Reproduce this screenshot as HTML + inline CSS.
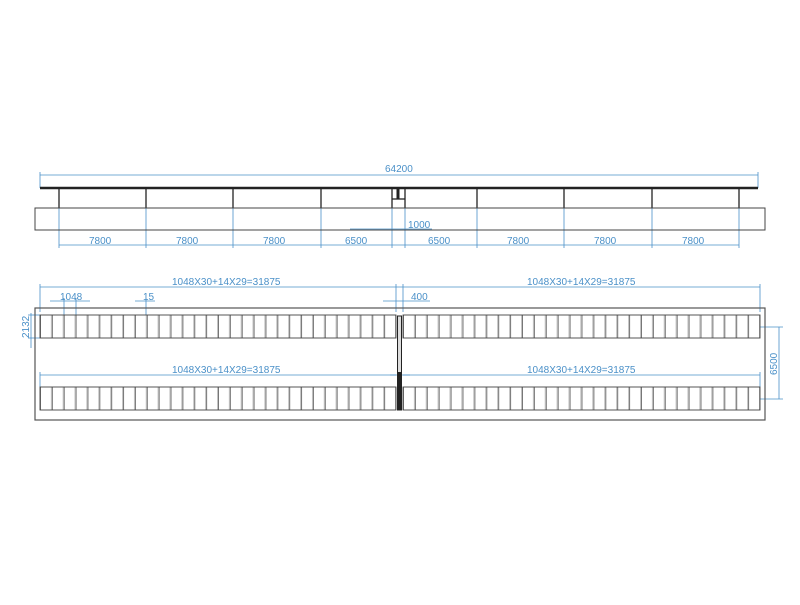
<!DOCTYPE html><html><head><style>body{margin:0;background:#fff}</style></head><body>
<svg width="800" height="600" xmlns="http://www.w3.org/2000/svg" font-family="Liberation Sans, sans-serif">
<defs>
<pattern id="pL" patternUnits="userSpaceOnUse" x="40" y="0" width="11.867" height="600"><rect x="0" y="0" width="11.867" height="600" fill="#fff"/><line x1="0.5" y1="0" x2="0.5" y2="600" stroke="#555" stroke-width="0.8"/><line x1="11.3" y1="0" x2="11.3" y2="600" stroke="#888" stroke-width="0.5"/></pattern>
<pattern id="pR" patternUnits="userSpaceOnUse" x="403" y="0" width="11.9" height="600"><rect x="0" y="0" width="11.9" height="600" fill="#fff"/><line x1="0.5" y1="0" x2="0.5" y2="600" stroke="#555" stroke-width="0.8"/><line x1="11.3" y1="0" x2="11.3" y2="600" stroke="#888" stroke-width="0.5"/></pattern>
</defs>
<rect width="800" height="600" fill="#fff"/>
<g stroke="#4a90c8" stroke-width="0.8" fill="none">
<line x1="40" y1="175" x2="758" y2="175"/><line x1="40" y1="172" x2="40" y2="188"/><line x1="758" y1="172" x2="758" y2="188"/>
<line x1="59" y1="245" x2="739" y2="245"/>
<line x1="59" y1="208" x2="59" y2="248"/><line x1="146" y1="208" x2="146" y2="248"/><line x1="233" y1="208" x2="233" y2="248"/><line x1="321" y1="208" x2="321" y2="248"/><line x1="392" y1="208" x2="392" y2="248"/><line x1="405" y1="208" x2="405" y2="248"/><line x1="477" y1="208" x2="477" y2="248"/><line x1="564" y1="208" x2="564" y2="248"/><line x1="652" y1="208" x2="652" y2="248"/><line x1="739" y1="208" x2="739" y2="248"/>
<line x1="350" y1="229" x2="432" y2="229"/>
<line x1="40" y1="287" x2="760" y2="287"/><line x1="40" y1="284" x2="40" y2="312"/><line x1="396" y1="284" x2="396" y2="312"/><line x1="403" y1="284" x2="403" y2="312"/><line x1="760" y1="284" x2="760" y2="312"/>
<line x1="50" y1="301" x2="90" y2="301"/><line x1="64" y1="298" x2="64" y2="315"/><line x1="76" y1="298" x2="76" y2="315"/>
<line x1="135" y1="301" x2="155" y2="301"/><line x1="146" y1="298" x2="146" y2="315"/>
<line x1="383" y1="301" x2="430" y2="301"/>
<line x1="40" y1="375" x2="396" y2="375"/><line x1="40" y1="372" x2="40" y2="387"/><line x1="403" y1="375" x2="760" y2="375"/><line x1="760" y1="372" x2="760" y2="387"/><line x1="390" y1="375" x2="410" y2="375"/>
<line x1="31" y1="313" x2="31" y2="348"/><line x1="28" y1="315" x2="40" y2="315"/><line x1="28" y1="338" x2="40" y2="338"/>
<line x1="779" y1="327" x2="779" y2="399"/><line x1="760" y1="327" x2="783" y2="327"/><line x1="760" y1="399" x2="783" y2="399"/>
</g>
<g fill="#4a90c8" font-size="10">
<text x="385" y="172">64200</text>
<text x="89" y="244">7800</text><text x="176" y="244">7800</text><text x="263" y="244">7800</text><text x="345" y="244">6500</text><text x="428" y="244">6500</text><text x="507" y="244">7800</text><text x="594" y="244">7800</text><text x="682" y="244">7800</text>
<text x="408" y="228">1000</text>
<text x="172" y="285">1048X30+14X29=31875</text><text x="527" y="285">1048X30+14X29=31875</text>
<text x="172" y="373">1048X30+14X29=31875</text><text x="527" y="373">1048X30+14X29=31875</text>
<text x="60" y="300">1048</text><text x="143" y="300">15</text><text x="411" y="300">400</text>
<text transform="translate(29,338) rotate(-90)">2132</text>
<text transform="translate(777,375) rotate(-90)">6500</text>
</g>
<g stroke="#222" fill="none">
<line x1="40" y1="188" x2="758" y2="188" stroke-width="2.5"/>
<g stroke-width="1.3"><line x1="59" y1="188" x2="59" y2="208"/><line x1="146" y1="188" x2="146" y2="208"/><line x1="233" y1="188" x2="233" y2="208"/><line x1="321" y1="188" x2="321" y2="208"/><line x1="392" y1="188" x2="392" y2="208"/><line x1="405" y1="188" x2="405" y2="208"/><line x1="477" y1="188" x2="477" y2="208"/><line x1="564" y1="188" x2="564" y2="208"/><line x1="652" y1="188" x2="652" y2="208"/><line x1="739" y1="188" x2="739" y2="208"/><line x1="392" y1="199" x2="405" y2="199"/><line x1="398" y1="188" x2="398" y2="199" stroke-width="3"/></g>
<rect x="35" y="208" width="730" height="22" stroke="#444"/>
<rect x="35" y="308" width="730" height="112" stroke="#555" stroke-width="1.2"/>
</g>
<rect x="40" y="315" width="356" height="23" fill="url(#pL)" stroke="#444" stroke-width="0.9"/>
<rect x="403" y="315" width="357" height="23" fill="url(#pR)" stroke="#444" stroke-width="0.9"/>
<rect x="40" y="387" width="356" height="23" fill="url(#pL)" stroke="#444" stroke-width="0.9"/>
<rect x="403" y="387" width="357" height="23" fill="url(#pR)" stroke="#444" stroke-width="0.9"/>
<rect x="397.5" y="316" width="4" height="94" fill="#ddd" stroke="#222" stroke-width="1"/>
<rect x="397.5" y="372" width="4" height="38" fill="#222"/>
</svg></body></html>
